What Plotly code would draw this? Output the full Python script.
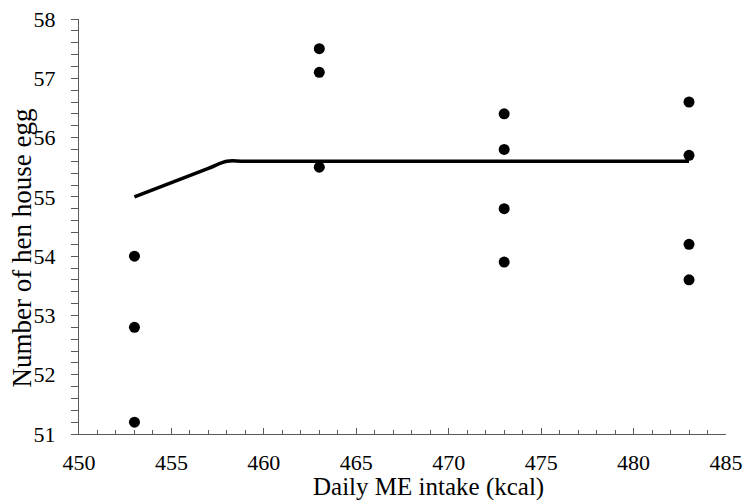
import plotly.graph_objects as go

# Observed data (Daily ME intake vs hen house egg number)
x_453 = [453, 453, 453]
y_453 = [54.0, 52.8, 51.2]
x_463 = [463, 463, 463]
y_463 = [57.5, 57.1, 55.5]
x_473 = [473, 473, 473, 473]
y_473 = [56.4, 55.8, 54.8, 53.9]
x_483 = [483, 483, 483, 483]
y_483 = [56.6, 55.7, 54.2, 53.6]

# Fitted broken-line model
fit_x = [453, 457, 458, 459, 483]
fit_y = [55.0, 55.48, 55.6, 55.6, 55.6]

x_ticks = [450, 455, 460, 465, 470, 475, 480, 485]
y_ticks = [51, 52, 53, 54, 55, 56, 57, 58]

FONT = "Liberation Serif, Times New Roman, serif"

pts_x = x_453 + x_463 + x_473 + x_483
pts_y = y_453 + y_463 + y_473 + y_483

fig = go.Figure()
fig.add_trace(go.Scatter(
    x=fit_x, y=fit_y, mode="lines",
    line=dict(color="black", width=3.5, shape="spline", smoothing=1.0),
    showlegend=False, hoverinfo="skip"))
fig.add_trace(go.Scatter(
    x=pts_x, y=pts_y, mode="markers",
    marker=dict(color="black", size=11),
    showlegend=False))

W, H = 744, 500
L, R, T, B = 79, 726, 19, 434
PW, PH = R - L, B - T

axis_col = "#595959"
fig.update_layout(
    template="none",
    width=W, height=H,
    margin=dict(l=L, r=W - R, t=T, b=H - B, pad=0, autoexpand=False),
    paper_bgcolor="white", plot_bgcolor="white",
    font=dict(family=FONT, size=23, color="black"),
    xaxis=dict(range=[450, 485], tickvals=x_ticks, ticktext=[str(v) for v in x_ticks],
               automargin=False,
               showgrid=False, zeroline=False, showline=True, linecolor=axis_col, linewidth=1,
               ticks="inside", ticklen=6, tickcolor=axis_col, tickwidth=1,
               ticklabelstandoff=9,
               minor=dict(dtick=1, ticks="inside", ticklen=4, tickcolor=axis_col, tickwidth=1, showgrid=False),
               tickfont=dict(family=FONT, size=22, color="black")),
    yaxis=dict(range=[51, 58], tickvals=y_ticks, ticktext=[str(v) for v in y_ticks],
               automargin=False,
               showgrid=False, zeroline=False, showline=True, linecolor=axis_col, linewidth=1,
               ticks="outside", ticklen=7, tickcolor=axis_col, tickwidth=1,
               ticklabelstandoff=11,
               minor=dict(dtick=0.2, ticks="outside", ticklen=7, tickcolor=axis_col, tickwidth=1, showgrid=False),
               tickfont=dict(family=FONT, size=22, color="black")),
    annotations=[
        dict(text="Daily ME intake (kcal)", xref="paper", yref="paper",
             x=(428 - L) / PW, y=-(471 - B) / PH, xanchor="center", yanchor="top",
             showarrow=False, font=dict(family=FONT, size=25, color="black")),
        dict(text="Number of hen house egg", xref="paper", yref="paper",
             x=-(L - 21) / PW, y=1 - (248.5 - T) / PH, xanchor="center", yanchor="middle",
             textangle=-90, showarrow=False, font=dict(family=FONT, size=27, color="black")),
    ],
)

# remove the browser's default 8px body margin so the figure sits at the page origin
fig.write_html("out.html", config={"displayModeBar": False},
               post_script="document.body.style.margin='0';")
